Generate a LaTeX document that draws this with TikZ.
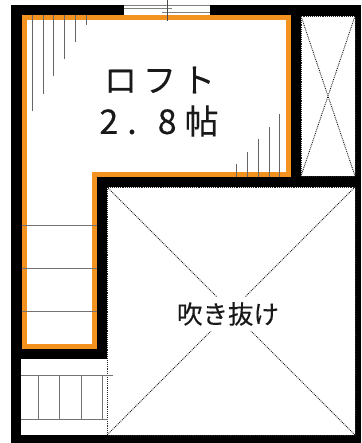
\documentclass[tikz,border=0pt]{standalone}
\usepackage{fontspec}
\newfontfamily\jpfont{Noto Sans CJK JP}[FakeBold=0.25]
\definecolor{loftorange}{RGB}{243,146,30}
\tikzset{
  x=1pt,y=-1pt,
  wall/.style={fill=black,draw=none},
  void/.style={fill=white,draw=black!85,densely dotted,line width=.9pt},
  cross/.style={draw=black!90,densely dotted,line width=.9pt},
  hatch/.style={draw=black!60,line width=1pt},
  tread/.style={draw=black!55,line width=1pt},
  lab/.style={inner sep=0pt,font=\jpfont,text=black!90}
}
\begin{document}
\begin{tikzpicture}
\useasboundingbox (0,0) rectangle (361,443);
\fill[white] (0,0) rectangle (361,443);
\fill[wall] (11,5) rectangle (361,443);
% loft
\fill[white,draw=loftorange,line width=5pt,miter limit=10]
  (24,17.5) -- (288,17.5) -- (288,175) -- (94.5,175) -- (94.5,346.5) -- (24,346.5) -- cycle;
% window
\fill[white] (124,5) rectangle (210,15);
\draw[black!50,line width=.9pt] (124,5) -- (210,5) (124,8) -- (172,8) (162,12) -- (210,12);
\draw[black!70,line width=.8pt] (167,0) -- (167,21);
% hatch top left
\foreach \hx/\hy in {32.5/111,43/94,53.5/76,64.5/59,75.5/42,86/25}
  \draw[hatch] (\hx,15) -- (\hx,\hy);
% hatch bottom right
\foreach \hx/\hy in {236/164,247/152,258/139,269/127,279/114}
  \draw[hatch] (\hx,177) -- (\hx,\hy);
% loft treads
\foreach \hy in {225,268,311}
  \draw[tread] (22,\hy) -- (97,\hy);
% closet
\path[void] (301,16) rectangle (355,176);
\coordinate (ca) at (301,16); \coordinate (cb) at (355,176);
\coordinate (cc) at (355,16); \coordinate (cd) at (301,176);
\draw[cross] (ca) -- (cb) (cc) -- (cd);
% lower room
\fill[white] (21,359) rectangle (107,435);
% big void
\path[void] (107,187) rectangle (355,435);
\foreach \hx in {38,59,81,102}
  \draw[tread] (\hx,375) -- (\hx,419);
\draw[tread] (21,375) -- (113,375) (21,419) -- (108,419);
\coordinate (va) at (107,187); \coordinate (vb) at (355,435);
\coordinate (vc) at (355,187); \coordinate (vd) at (107,435);
\draw[cross] (va) -- (vb) (vc) -- (vd);
% labels
\node[lab,fill=white,inner xsep=3pt,inner ysep=5pt,font=\jpfont\fontsize{25.5}{26}\selectfont] (fuki) at (228,314)
  {吹き抜け};
\node[lab,font=\jpfont\fontsize{33}{33}\selectfont] (loft) at (159.5,80)
  {ロ\hspace{6pt}フ\hspace{6pt}ト};
\node[lab,font=\jpfont\fontsize{34}{34}\selectfont] (size) at (159,121)
  {2\hspace{9pt}.\hspace{21pt}8\hspace{8pt}帖};
\end{tikzpicture}
\end{document}
